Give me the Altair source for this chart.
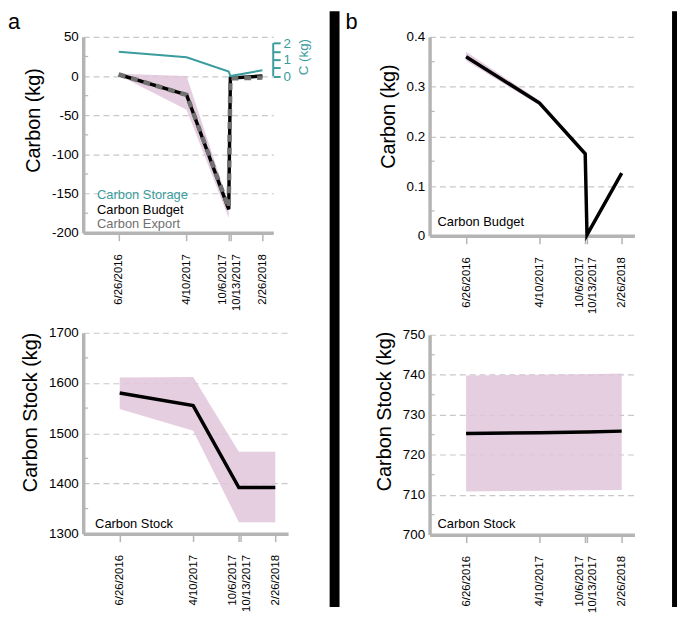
import altair as alt
import pandas as pd

# ---------------- data ----------------
dates = ["2016/06/26", "2017/04/10", "2017/10/06", "2017/10/13", "2018/02/26"]
tick_dates = [(2016, 6, 26), (2017, 4, 10), (2017, 10, 6), (2017, 10, 13), (2018, 2, 26)]

# panel a, top (Carbon, kg)
a_budget = [2, -24, -170, -2.5, 0]
a_budget_lo = [1, -43, -181, -4, -1.5]
a_budget_hi = [3, 0, -163, -1, 1]
a_export = [2, -24, -168, -3, -2]
a_storage = [1.48, 1.14, 0.28, 0.0, 0.35]  # right axis, C (kg)

# panel a, bottom (Carbon Stock, kg)
a_stock = [1580, 1555, 1392, 1392, 1392]
a_stock_lo = [1548, 1505, 1323, 1323, 1323]
a_stock_hi = [1611, 1612, 1463, 1463, 1463]

# panel b, top
b_budget = [0.36, 0.267, 0.165, 0.002, 0.126]
b_budget_lo = [0.352, 0.262, 0.165, 0.002, 0.126]
b_budget_hi = [0.370, 0.272, 0.165, 0.002, 0.126]

# panel b, bottom
b_stock = [725.3, 725.5, 725.7, 725.7, 725.9]
b_stock_lo = [710.8, 711.0, 711.1, 711.1, 711.2]
b_stock_hi = [739.8, 740.0, 740.1, 740.1, 740.3]

# axis values
a_top_major = [-200, -150, -100, -50, 0, 50]
a_top_minor = [-175, -125, -75, -25, 25]
a_bot_major = [1300, 1400, 1500, 1600, 1700]
a_bot_minor = [1350, 1450, 1550, 1650]
b_top_major = [0, 0.1, 0.2, 0.3, 0.4]
b_top_minor = [0.05, 0.15, 0.25, 0.35]
b_bot_major = [700, 710, 720, 730, 740, 750]
b_bot_minor = [705, 715, 725, 735, 745]
teal_ticks = [0, 0.5, 1, 1.5, 2]

# ---------------- style ----------------
FONT = "Liberation Sans"
GRAY = "#b4b4b4"
GRID = "#c8c8c8"
BAND = "#e2c5dc"
TEAL = "#3a9c9c"
EXPORT = "#707070"


def xenc(domain):
    return alt.X(
        "date:T",
        scale=alt.Scale(domain=[alt.DateTime(year=d[0], month=d[1], date=d[2]) for d in domain]),
        axis=alt.Axis(
            values=[alt.DateTime(year=y, month=m, date=d) for (y, m, d) in tick_dates],
            format="%-m/%-d/%Y",
            labelAngle=270,
            labelAlign="right",
            labelBaseline="middle",
            labelFontSize=11.5,
            labelFont=FONT,
            labelColor="black",
            labelPadding=13,
            labelFlush=False,
            labelOverlap=False,
            labelBound=False,
            labelOffset={"expr": "month(datum.value)==9 && date(datum.value)==6 ? -6 : (month(datum.value)==9 && date(datum.value)==13 ? 6 : 0)"},
            tickSize=8,
            tickWidth=1.5,
            tickColor=GRAY,
            domainColor=GRAY,
            domainWidth=3.5,
            grid=False,
            title=None,
        ),
    )


def yenc(field, domain, values, title, title_y):
    return alt.Y(
        field,
        scale=alt.Scale(domain=domain, nice=False, zero=False),
        axis=alt.Axis(
            values=values,
            labelExpr="'' + datum.value",
            labelFontSize=13.5,
            labelFont=FONT,
            labelColor="black",
            labelPadding=5,
            ticks=False,
            domainColor=GRAY,
            domainWidth=3.5,
            grid=True,
            gridColor=GRID,
            gridDash=[6, 4],
            gridWidth=1.2,
            title=title,
            titleFont=FONT,
            titleFontSize=20,
            titleFontWeight="normal",
            titleColor="black",
            titlePadding=8,
            titleY=title_y,
        ),
    )


def text_layer(txt, col, px, py, size=13, baseline="middle"):
    return alt.Chart(pd.DataFrame({"t": [txt]})).mark_text(
        align="left", baseline=baseline, font=FONT, fontSize=size, color=col).encode(
        x=alt.value(px), y=alt.value(py), text="t:N")


def rect_layer(x1, x2, y1, y2):
    return alt.Chart(pd.DataFrame({"k": [0]})).mark_rect(color="black").encode(
        x=alt.value(x1), x2=alt.value(x2), y=alt.value(y1), y2=alt.value(y2))


def panel(vals, lo, hi, ydomain, major, minor, title, title_y, xdomain, w, h,
          extra_line=None, labels=(), extra=()):
    df = pd.DataFrame({"date": dates, "val": vals, "lo": lo, "hi": hi})
    ydef = lambda f: yenc(f, ydomain, major, title, title_y)
    band = alt.Chart(df).mark_area(color=BAND, opacity=0.85).encode(
        x=xenc(xdomain), y=ydef("lo:Q"), y2="hi:Q")
    line = alt.Chart(df).mark_line(color="black", strokeWidth=3.5).encode(
        x=xenc(xdomain), y=ydef("val:Q"))
    mdf = pd.DataFrame({"m": minor})
    ticks = alt.Chart(mdf).mark_rule(color=GRAY, strokeWidth=1.2).encode(
        y=ydef("m:Q"), x=alt.value(0), x2=alt.value(5))
    layers = [band, ticks, line]
    if extra_line is not None:
        edf = pd.DataFrame({"date": dates, "ex": extra_line})
        layers.append(alt.Chart(edf).mark_line(color=EXPORT, strokeWidth=4.5, strokeDash=[7, 6]).encode(
            x=xenc(xdomain), y=ydef("ex:Q")))
    for (txt, col, px, py) in labels:
        layers.append(text_layer(txt, col, px, py))
    layers.extend(extra)
    return alt.layer(*layers).properties(width=w, height=h)


XA_TOP = [(2016, 1, 27), (2018, 4, 13)]
XDOM = [(2016, 2, 4), (2018, 4, 17)]

# ---- panel a top with teal secondary axis ----
a_top_main = panel(a_budget, a_budget_lo, a_budget_hi, [-200, 50], a_top_major, a_top_minor,
                   "Carbon (kg)", 84, XA_TOP, 192, 198, extra_line=a_export,
                   labels=[("Carbon Storage", TEAL, 14, 160), ("Carbon Budget", "black", 14, 175),
                           ("Carbon Export", EXPORT, 14, 189)],
                   extra=[text_layer("a", "black", -76, -8, size=22, baseline="alphabetic")])

sdf = pd.DataFrame({"date": dates, "storage": a_storage})
teal_axis = alt.Axis(values=teal_ticks, labelExpr="datum.value % 1 == 0 ? '' + datum.value : ''",
                     orient="right", domain=False, grid=False, tickColor=TEAL, tickSize=7, tickWidth=2,
                     labelColor=TEAL, labelFont=FONT, labelFontSize=13.5, labelPadding=3,
                     title="C (kg)", titleColor=TEAL, titleFont=FONT, titleFontSize=13.5,
                     titleFontWeight="normal", titleAngle=270, titleBaseline="middle",
                     titleX=31, titleY=20)
teal_scale = alt.Scale(domain=[-9.52, 2.38], nice=False, zero=False)
storage_line = alt.Chart(sdf).mark_line(color=TEAL, strokeWidth=2).encode(
    x=xenc(XA_TOP), y=alt.Y("storage:Q", scale=teal_scale, axis=teal_axis))
teal_rule = alt.Chart(pd.DataFrame({"a": [0], "b": [2]})).mark_rule(color=TEAL, strokeWidth=2).encode(
    x=alt.value(192), y=alt.Y("a:Q", scale=teal_scale, axis=teal_axis), y2="b:Q")
a_top = alt.layer(a_top_main, alt.layer(storage_line, teal_rule)).resolve_scale(y="independent")

a_bot = panel(a_stock, a_stock_lo, a_stock_hi, [1300, 1700], a_bot_major, a_bot_minor,
              "Carbon Stock (kg)", 80, XDOM, 207, 203, labels=[("Carbon Stock", "black", 12, 193)])

# panel b top also carries the black panel divider and the right border strip
b_top = panel(b_budget, b_budget_lo, b_budget_hi, [0, 0.4], b_top_major, b_top_minor,
              "Carbon (kg)", 80, XDOM, 207, 201, labels=[("Carbon Budget", "black", 8, 187)],
              extra=[text_layer("b", "black", -85, -8, size=22, baseline="alphabetic"),
                     rect_layer(-101, -91, -26, 576),
                     rect_layer(245, 250, -26, 576)])

b_bot = panel(b_stock, b_stock_lo, b_stock_hi, [700, 750], b_bot_major, b_bot_minor,
              "Carbon Stock (kg)", 77, XDOM, 207, 202, labels=[("Carbon Stock", "black", 8, 191)])

panelA = alt.vconcat(a_top, a_bot, spacing=101, bounds="flush")
panelB = alt.vconcat(b_top, b_bot, spacing=100, bounds="flush")

chart = alt.hconcat(panelA, panelB, spacing=350, bounds="flush").properties(
    padding=0, background="white").configure_view(strokeWidth=0)

chart.save("out.html", embed_options={"renderer": "svg", "actions": False})
